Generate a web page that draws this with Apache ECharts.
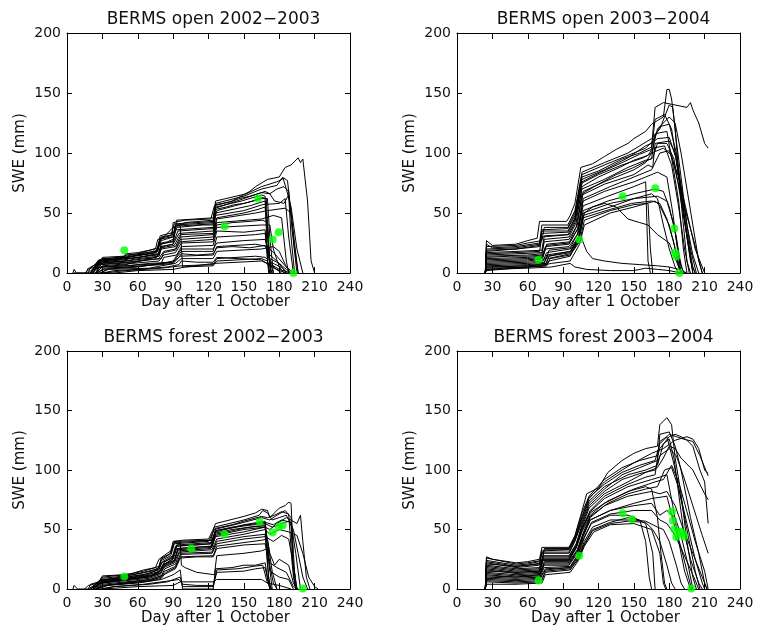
<!DOCTYPE html>
<html>
<head>
<meta charset="utf-8">
<script src="https://cdn.jsdelivr.net/npm/echarts@6/dist/echarts.min.js"></script>
<style>
  html, body { margin: 0; padding: 0; background: #fff; }
  #chart { width: 759px; height: 627px; }
</style>
</head>
<body>
<div id="chart"></div>
<script>
// Panel titles
const panelTitles = [
  'BERMS open 2002\u22122003',
  'BERMS open 2003\u22122004',
  'BERMS forest 2002\u22122003',
  'BERMS forest 2003\u22122004'
];

// Axis ticks
const dayTicks = [0, 30, 60, 90, 120, 150, 180, 210, 240];
const sweTicks = [0, 50, 100, 150, 200];

// Ensemble SWE runs (mm); each run is a flat list: day, swe, day, swe, ...
const open0203Runs = [
  [5,0, 18,0, 20,5, 27,8, 30,13, 48,14, 50,16, 60,17, 75,20, 77,28, 89,30, 90,42, 100,44, 122,45, 125,56, 140,60, 155,68, 160,72, 170,78, 180,80, 185,88, 190,90, 196,96, 198,92, 200,95, 204,60, 207,10, 210,0],
  [15,0, 20,4, 27,10, 47,12, 50,15, 60,16, 76,18, 78,26, 90,38, 100,42, 124,44, 126,58, 150,64, 165,70, 178,73, 183,80, 186,70, 190,55, 195,20, 200,0],
  [20,0, 28,11, 48,12, 55,14, 77,19, 80,30, 90,32, 92,40, 124,42, 126,55, 148,60, 165,65, 168,64, 170,10, 172,0],
  [22,0, 25,6, 30,12, 50,13, 60,15, 75,17, 78,24, 90,26, 92,36, 124,38, 127,52, 150,58, 165,62, 170,62, 172,30, 175,0],
  [20,0, 27,9, 48,11, 60,13, 78,16, 80,22, 90,24, 95,33, 124,35, 126,48, 150,52, 166,57, 180,58, 185,62, 188,30, 192,0],
  [25,0, 28,8, 50,10, 60,12, 78,14, 80,20, 92,22, 96,30, 124,32, 127,45, 160,50, 170,52, 185,54, 190,50, 196,0],
  [18,0, 26,7, 50,9, 78,12, 82,18, 92,20, 96,28, 124,30, 127,42, 165,45, 175,48, 182,46, 186,10, 188,0],
  [25,0, 30,6, 55,8, 78,10, 82,15, 92,17, 97,25, 124,26, 127,38, 165,40, 172,40, 175,20, 180,5, 184,0],
  [24,0, 30,5, 50,6, 80,8, 82,13, 93,15, 97,22, 124,23, 127,35, 150,34, 168,36, 171,0],
  [20,0, 28,5, 50,7, 78,14, 80,22, 90,24, 92,40, 96,40, 98,5, 124,6, 127,10, 165,12, 170,10, 172,0],
  [25,0, 30,3, 60,5, 80,8, 90,10, 97,20, 124,20, 127,25, 150,27, 168,28, 172,15, 178,10, 186,0],
  [28,0, 35,3, 70,4, 80,6, 92,8, 97,12, 124,12, 127,18, 165,20, 175,22, 180,18, 186,5, 190,0],
  [30,0, 50,2, 80,4, 97,6, 124,7, 127,12, 160,14, 168,13, 175,8, 183,4, 187,0],
  [5,0, 6,3, 8,0, 40,0, 60,2, 90,3, 100,5, 125,8, 165,10, 175,6, 180,3, 190,0],
  [20,0, 27,11, 50,14, 60,16, 77,21, 79,31, 91,34, 93,44, 124,46, 126,60, 152,66, 165,72, 178,76, 184,79, 187,77, 190,50, 193,20, 196,0],
  [20,0, 28,10, 49,13, 76,17, 80,27, 90,30, 92,39, 124,41, 126,54, 150,62, 168,68, 172,66, 176,60, 184,58, 188,65, 190,30, 193,0],
  [22,0, 28,9, 50,12, 77,15, 80,24, 91,27, 94,35, 124,37, 126,50, 155,56, 168,60, 170,40, 172,5, 174,0],
  [16,0, 18,4, 30,5, 50,6, 70,8, 90,9, 96,14, 124,15, 127,22, 160,24, 170,22, 178,14, 185,6, 192,0],
  [22,0, 27,8, 35,9, 48,10, 52,12, 62,13, 70,15, 78,16, 80,25, 85,26, 90,28, 93,38, 105,39, 115,40, 124,40, 126,53, 135,55, 142,57, 150,58, 158,60, 165,63, 169,62, 171,20, 173,0],
  [20,0, 26,10, 40,11, 50,13, 58,14, 70,16, 77,18, 79,29, 88,31, 91,41, 110,42, 124,43, 126,57, 138,59, 146,62, 155,64, 165,67, 172,66, 178,70, 184,72, 188,68, 191,35, 195,0],
  [24,0, 29,7, 45,8, 55,9, 70,11, 80,12, 82,17, 92,19, 96,26, 110,27, 124,28, 127,40, 140,42, 155,43, 166,44, 170,42, 172,10, 175,0],
  [26,0, 32,4, 50,5, 80,7, 90,8, 94,12, 97,16, 110,15, 124,16, 127,21, 140,22, 155,21, 168,23, 172,12, 180,8, 186,3, 190,0],
  [30,0, 40,2, 60,3, 85,5, 95,7, 97,10, 110,9, 124,9, 127,13, 145,12, 165,11, 172,6, 180,2, 186,0],
  [28,0, 36,4, 55,5, 75,7, 90,9, 97,18, 115,18, 124,18, 127,30, 145,31, 160,32, 168,33, 171,12, 176,4, 182,0],
  [22,0, 28,8, 50,10, 76,13, 80,21, 91,23, 96,32, 124,33, 127,46, 150,50, 162,53, 168,55, 171,20, 173,0]
];

const open0304Runs = [
  [24,0, 25,27, 30,23, 50,24, 60,27, 68,29, 70,43, 93,43, 96,48, 100,58, 105,88, 115,91, 125,97, 135,103, 145,108, 150,112, 160,118, 165,124, 170,127, 175,130, 178,153, 180,153, 182,145, 185,120, 190,60, 195,10, 198,0],
  [24,0, 25,22, 50,23, 60,25, 72,27, 74,38, 94,38, 100,50, 106,80, 120,85, 140,95, 155,100, 165,105, 168,138, 175,142, 185,140, 195,138, 198,142, 200,136, 205,125, 210,108, 213,104],
  [24,0, 25,18, 50,20, 70,22, 72,35, 94,35, 100,45, 106,75, 120,82, 140,90, 158,96, 165,100, 170,120, 180,130, 185,125, 190,100, 195,70, 200,40, 205,10, 208,0],
  [24,0, 25,16, 50,17, 70,18, 72,30, 95,32, 100,42, 106,70, 125,78, 145,88, 160,94, 165,95, 168,116, 178,118, 183,90, 188,60, 192,20, 195,0],
  [24,0, 25,14, 60,15, 72,16, 74,26, 95,28, 102,40, 106,65, 125,74, 150,82, 162,90, 166,88, 168,108, 180,110, 185,100, 190,70, 195,30, 200,0],
  [24,0, 25,12, 60,13, 72,14, 75,22, 95,24, 102,36, 107,60, 125,68, 150,76, 160,80, 165,82, 170,84, 178,80, 183,50, 187,20, 190,0],
  [24,0, 25,10, 60,11, 72,12, 75,20, 95,22, 102,32, 107,56, 128,64, 150,72, 160,76, 162,10, 164,0],
  [24,0, 25,8, 60,9, 73,10, 76,17, 96,20, 103,30, 107,52, 128,60, 150,66, 168,70, 175,68, 180,55, 186,30, 190,5, 193,0],
  [24,0, 25,6, 60,7, 74,8, 76,15, 96,18, 103,28, 107,48, 130,55, 150,62, 170,64, 178,60, 184,40, 188,15, 192,0],
  [24,0, 25,5, 60,6, 75,7, 77,12, 96,16, 103,26, 106,28, 110,18, 115,12, 125,10, 140,8, 155,7, 170,6, 180,5, 188,3, 195,0],
  [24,0, 25,4, 60,5, 75,6, 78,10, 96,14, 104,30, 108,50, 115,55, 125,58, 135,55, 145,45, 155,42, 162,40, 170,32, 180,25, 186,10, 190,0],
  [24,0, 25,3, 60,4, 80,5, 96,8, 100,5, 110,3, 130,2, 150,2, 160,4, 170,3, 180,2, 190,0],
  [24,0, 25,2, 50,4, 70,6, 80,8, 96,10, 104,24, 108,40, 130,50, 150,55, 168,60, 172,56, 180,40, 185,20, 190,0],
  [24,0, 25,20, 50,21, 70,24, 72,33, 94,34, 100,46, 106,78, 125,86, 145,96, 160,106, 165,108, 170,112, 180,113, 186,95, 192,50, 198,10, 202,0],
  [24,0, 25,24, 30,21, 50,22, 70,25, 72,40, 94,40, 100,52, 106,84, 125,92, 145,100, 165,112, 172,120, 180,140, 183,138, 186,110, 190,80, 195,40, 200,15, 205,0],
  [24,0, 25,9, 60,10, 76,12, 78,19, 96,21, 103,34, 107,62, 130,72, 150,80, 165,86, 172,100, 180,102, 188,80, 195,50, 202,20, 210,0],
  [24,0, 25,11, 60,12, 73,13, 76,24, 96,26, 103,38, 107,68, 125,76, 150,86, 160,92, 165,100, 175,104, 182,98, 190,65, 200,30, 208,0],
  [24,0, 25,7, 60,8, 74,9, 77,14, 96,18, 103,30, 107,50, 130,58, 150,62, 165,66, 170,62, 175,40, 180,20, 185,5, 188,0],
  [24,0, 25,13, 45,14, 60,14, 73,15, 76,23, 95,25, 101,38, 106,66, 120,74, 135,82, 150,88, 160,93, 166,96, 170,108, 178,108, 184,95, 190,60, 196,25, 200,0],
  [24,0, 25,15, 50,16, 72,17, 74,28, 95,30, 101,42, 106,72, 120,80, 138,88, 150,94, 162,98, 166,104, 176,106, 182,90, 188,55, 193,20, 197,0],
  [24,0, 25,17, 50,18, 72,19, 74,31, 94,32, 100,44, 106,76, 122,84, 140,92, 155,99, 165,103, 168,128, 176,132, 182,120, 188,80, 194,40, 200,5, 202,0],
  [24,0, 25,5, 60,6, 76,8, 78,14, 96,17, 103,28, 107,46, 130,53, 148,58, 165,60, 172,58, 178,45, 184,25, 188,5, 191,0],
  [24,0, 25,3, 40,4, 60,5, 76,6, 79,12, 96,15, 104,26, 108,44, 130,52, 150,57, 162,58, 164,20, 166,0],
  [24,0, 25,19, 50,20, 70,23, 72,36, 94,37, 100,48, 106,82, 125,90, 145,98, 160,104, 166,110, 172,122, 180,124, 186,100, 192,60, 198,20, 203,0]
];

const forest0203Runs = [
  [5,0, 6,3, 9,0, 18,0, 20,4, 27,6, 30,11, 48,12, 55,13, 65,16, 75,18, 78,25, 85,30, 88,32, 90,40, 98,41, 120,42, 124,50, 126,55, 150,61, 160,64, 165,67, 170,66, 172,60, 176,64, 180,68, 185,70, 188,73, 190,72, 192,30, 194,0],
  [15,0, 18,3, 27,5, 30,9, 50,11, 65,14, 77,17, 80,24, 88,28, 91,38, 120,40, 125,50, 150,56, 165,60, 172,58, 178,62, 185,66, 190,60, 192,20, 195,0],
  [20,0, 27,6, 30,8, 50,10, 65,12, 78,16, 80,22, 89,26, 92,36, 122,38, 126,48, 150,54, 168,57, 170,40, 172,20, 175,5, 178,0],
  [20,0, 27,4, 30,7, 50,9, 70,11, 78,14, 81,20, 90,25, 93,34, 122,36, 126,46, 150,51, 168,54, 171,10, 173,0],
  [22,0, 25,3, 30,6, 50,8, 70,10, 79,13, 82,19, 91,23, 94,32, 122,34, 126,44, 150,48, 168,52, 172,50, 178,55, 186,60, 190,58, 195,55, 198,62, 200,40, 203,10, 206,0],
  [22,0, 30,5, 50,7, 70,9, 79,12, 82,18, 91,22, 95,31, 123,33, 127,42, 150,46, 168,50, 172,46, 180,50, 188,48, 195,45, 200,30, 205,10, 210,2, 213,0],
  [24,0, 30,4, 50,6, 70,8, 80,11, 83,17, 92,21, 95,30, 123,31, 127,40, 150,44, 168,46, 170,20, 172,0],
  [24,0, 30,3, 50,5, 70,7, 80,10, 83,15, 92,19, 96,29, 123,30, 127,38, 150,42, 168,44, 175,40, 182,45, 188,42, 192,20, 195,0],
  [25,0, 32,3, 55,5, 72,7, 80,9, 84,14, 92,18, 96,27, 124,28, 127,36, 150,39, 165,41, 170,42, 172,30, 176,20, 180,25, 188,20, 192,5, 195,0],
  [20,0, 28,5, 50,8, 70,10, 78,14, 82,20, 90,26, 93,36, 96,40, 97,20, 100,18, 110,14, 125,12, 127,28, 150,30, 165,32, 170,34, 172,15, 180,10, 188,8, 192,0],
  [25,0, 35,3, 60,5, 80,8, 90,12, 96,16, 98,0, 124,0, 126,17, 140,18, 150,20, 160,20, 168,22, 170,10, 172,0],
  [28,0, 40,2, 70,4, 85,6, 96,10, 98,2, 124,2, 127,14, 150,15, 160,17, 168,18, 172,0],
  [30,0, 60,2, 90,3, 96,6, 124,6, 127,8, 165,8, 170,5, 180,3, 190,0],
  [18,0, 26,5, 30,10, 50,12, 65,15, 78,19, 80,26, 88,30, 91,40, 122,41, 125,52, 150,58, 163,62, 166,66, 170,64, 174,58, 180,60, 186,62, 190,55, 192,10, 194,0],
  [20,0, 28,7, 50,10, 70,13, 78,17, 81,23, 90,28, 93,37, 122,39, 126,49, 150,53, 168,55, 174,52, 180,54, 188,57, 192,50, 196,30, 200,10, 204,0],
  [22,0, 30,6, 50,9, 68,12, 79,15, 82,21, 91,24, 94,33, 123,35, 126,45, 150,50, 168,52, 171,35, 174,15, 178,0],
  [20,0, 27,7, 40,9, 50,11, 62,13, 72,15, 78,18, 80,25, 87,29, 91,39, 110,40, 124,41, 126,51, 140,54, 150,57, 165,61, 170,60, 176,62, 182,65, 188,63, 191,20, 194,0],
  [23,0, 29,5, 45,7, 60,9, 75,12, 80,14, 83,20, 91,24, 94,34, 110,35, 123,36, 126,47, 140,50, 155,52, 168,53, 171,25, 174,0],
  [22,0, 28,6, 45,8, 60,10, 72,12, 79,15, 82,22, 90,27, 93,36, 110,37, 122,38, 126,49, 140,52, 160,55, 168,56, 175,54, 182,58, 190,56, 194,30, 198,0],
  [26,0, 32,3, 55,6, 72,8, 82,12, 92,17, 96,26, 110,27, 124,27, 127,34, 150,37, 168,38, 172,22, 178,18, 186,14, 192,2, 196,0],
  [30,0, 40,2, 65,4, 88,7, 95,8, 98,4, 110,3, 124,3, 127,16, 145,17, 158,19, 166,20, 170,5, 174,0]
];

const forest0304Runs = [
  [24,0, 25,27, 30,25, 50,22, 60,23, 70,25, 72,35, 95,35, 100,45, 105,62, 110,80, 120,85, 128,98, 140,108, 150,114, 160,118, 170,120, 172,138, 178,144, 182,138, 185,110, 190,80, 195,40, 200,10, 203,0],
  [24,0, 25,24, 50,20, 60,21, 70,23, 72,32, 95,33, 100,42, 106,60, 112,76, 125,90, 140,100, 150,106, 165,114, 175,118, 185,125, 195,128, 200,126, 205,118, 210,100, 213,97],
  [24,0, 25,22, 50,18, 70,20, 72,30, 95,30, 100,40, 106,56, 112,72, 125,84, 140,96, 155,102, 170,108, 172,130, 180,132, 185,120, 190,100, 198,60, 205,30, 210,5, 212,0],
  [24,0, 25,20, 50,17, 70,18, 73,28, 95,28, 101,38, 106,52, 112,68, 125,80, 145,90, 160,98, 170,102, 175,110, 180,120, 185,118, 190,110, 200,100, 210,80, 213,75],
  [24,0, 25,18, 50,15, 70,16, 73,26, 95,26, 101,36, 106,50, 113,65, 125,76, 145,86, 165,92, 172,94, 178,96, 183,70, 188,40, 193,15, 198,0],
  [24,0, 25,16, 50,13, 70,14, 73,24, 95,24, 101,34, 106,48, 113,62, 125,72, 145,82, 160,86, 165,84, 170,60, 173,30, 176,5, 178,0],
  [24,0, 25,14, 50,12, 70,13, 74,22, 95,22, 102,32, 107,46, 113,60, 125,70, 145,78, 165,82, 172,80, 178,82, 185,70, 192,50, 200,30, 208,10, 212,0],
  [24,0, 25,12, 50,10, 70,11, 74,20, 95,20, 102,30, 107,44, 113,58, 130,66, 150,72, 165,76, 178,78, 184,55, 190,35, 195,15, 199,0],
  [24,0, 25,10, 50,9, 70,10, 74,18, 96,19, 102,28, 107,42, 114,55, 130,62, 145,62, 150,60, 160,55, 166,30, 168,0],
  [24,0, 25,8, 50,7, 70,8, 75,16, 96,18, 103,27, 108,40, 115,52, 130,58, 150,58, 160,57, 170,52, 175,50, 180,40, 186,20, 190,5, 193,0],
  [24,0, 25,6, 50,5, 70,6, 75,14, 96,16, 103,26, 108,38, 115,50, 130,56, 145,60, 155,58, 160,40, 163,10, 165,0],
  [24,0, 25,4, 50,4, 72,5, 75,12, 96,14, 103,24, 108,36, 116,48, 130,54, 150,55, 165,50, 172,30, 175,5, 177,0],
  [24,0, 25,26, 50,21, 60,22, 72,24, 74,34, 95,34, 100,44, 106,64, 112,78, 125,92, 140,102, 155,108, 170,112, 172,118, 180,128, 185,130, 190,128, 195,125, 200,120, 206,100, 210,90, 213,55],
  [24,0, 25,21, 50,19, 70,21, 72,31, 95,31, 100,41, 106,58, 112,74, 125,86, 145,96, 160,100, 170,104, 175,122, 180,126, 184,110, 188,80, 192,50, 198,25, 205,5, 208,0],
  [24,0, 25,15, 50,14, 70,15, 73,25, 95,25, 101,35, 106,50, 113,64, 128,74, 150,84, 168,90, 175,92, 182,104, 188,90, 195,65, 202,40, 210,15, 213,0],
  [24,0, 25,11, 50,10, 70,12, 74,21, 95,21, 102,31, 107,45, 113,58, 130,66, 150,70, 165,72, 172,62, 178,66, 185,60, 190,45, 196,20, 200,0],
  [24,0, 25,19, 50,16, 70,17, 73,27, 95,27, 101,37, 106,54, 112,70, 125,82, 140,92, 155,97, 168,100, 172,112, 180,118, 186,112, 192,95, 200,70, 208,45, 213,30],
  [24,0, 25,13, 50,11, 70,12, 74,23, 95,23, 102,33, 107,47, 113,61, 128,72, 145,80, 160,84, 170,86, 176,100, 182,102, 188,85, 195,55, 202,25, 208,5, 210,0],
  [24,0, 25,17, 50,14, 70,15, 73,25, 95,25, 101,35, 106,51, 113,66, 125,78, 145,88, 160,94, 168,96, 172,124, 178,128, 184,105, 190,75, 196,45, 202,15, 206,0],
  [24,0, 25,9, 50,8, 70,9, 75,17, 96,18, 103,29, 108,43, 114,56, 130,63, 150,66, 165,66, 172,58, 178,55, 185,45, 192,30, 200,12, 205,0],
  [24,0, 25,23, 50,19, 60,20, 72,22, 74,33, 95,33, 100,43, 106,61, 112,77, 125,88, 140,98, 155,104, 168,108, 172,122, 180,130, 186,128, 192,126, 200,124, 206,112, 213,95],
  [24,0, 25,7, 50,6, 72,7, 75,15, 96,17, 103,25, 108,37, 115,49, 130,55, 145,57, 160,56, 166,50, 172,40, 178,20, 182,5, 185,0]
];

// Snow survey observations: [day, swe]
const open0203Obs = [[48.6,19],[133.7,39],[162,62],[174.4,28],[179.5,34],[192,0]];
const open0304Obs = [[69.2,11],[103.7,28],[140.5,64],[168.2,70.6],[184.3,37],[185,17],[186,14],[188.6,0]];
const forest0203Obs = [[48.6,10.5],[105.4,34],[133.7,46],[163.3,56.4],[174.4,47.5],[179.5,52],[182.9,53.6],[199.9,0.5]];
const forest0304Obs = [[69.2,7.2],[103.7,27.9],[140.5,63.7],[148.4,58.7],[182.3,65],[183.2,57.5],[184.3,50.3],[186,43.6],[188.6,48.3],[190.8,47.5],[192.8,44.1],[198.7,0.5]];

const panelRuns = [open0203Runs, open0304Runs, forest0203Runs, forest0304Runs];
const panelObs = [open0203Obs, open0304Obs, forest0203Obs, forest0304Obs];

// Layout of the 2x2 panel grid
const panelBoxes = [
  { left: 67,  top: 33,  width: 283, height: 240 },
  { left: 457, top: 33,  width: 283, height: 240 },
  { left: 67,  top: 351, width: 283, height: 238 },
  { left: 457, top: 351, width: 283, height: 238 }
];

const FONT = 'DejaVu Sans';
const INK = '#000';
const TEXT = '#111';

function toPairs(flat) {
  const out = [];
  for (let i = 0; i < flat.length; i += 2) out.push([flat[i], flat[i + 1]]);
  return out;
}

const option = {
  backgroundColor: '#fff',
  animation: false,
  title: [],
  grid: [],
  xAxis: [],
  yAxis: [],
  series: []
};

panelBoxes.forEach(function (box, p) {
  option.grid.push(Object.assign({ containLabel: false }, box));
  option.title.push({
    text: panelTitles[p],
    left: box.left + box.width / 2,
    top: box.top - 27,
    textAlign: 'center',
    textStyle: { fontFamily: FONT, fontSize: 17, fontWeight: 'normal', color: TEXT }
  });

  const tickStyle = { show: true, inside: true, length: 6, lineStyle: { color: INK, width: 1 } };
  const lineStyle = { show: true, onZero: false, lineStyle: { color: INK, width: 1 } };

  // bottom axis with labels
  option.xAxis.push({
    gridIndex: p, type: 'value', position: 'bottom',
    min: dayTicks[0], max: dayTicks[dayTicks.length - 1], interval: 30,
    axisLine: lineStyle, axisTick: tickStyle, splitLine: { show: false },
    axisLabel: { margin: 7, fontFamily: FONT, fontSize: 14, color: TEXT, showMinLabel: true, showMaxLabel: true },
    name: 'Day after 1 October', nameLocation: 'middle', nameGap: p < 2 ? 21 : 22,
    nameTextStyle: { fontFamily: FONT, fontSize: 15, color: TEXT, padding: [0, 0, 0, 14] }
  });
  // top axis: frame + inward ticks
  option.xAxis.push({
    gridIndex: p, type: 'value', position: 'top',
    min: dayTicks[0], max: dayTicks[dayTicks.length - 1], interval: 30,
    axisLine: lineStyle, axisTick: tickStyle, splitLine: { show: false },
    axisLabel: { show: false }
  });
  // left axis with labels
  option.yAxis.push({
    gridIndex: p, type: 'value', position: 'left',
    min: sweTicks[0], max: sweTicks[sweTicks.length - 1], interval: 50,
    axisLine: lineStyle, axisTick: Object.assign({}, tickStyle, { length: 5 }), splitLine: { show: false },
    axisLabel: { margin: 6, fontFamily: FONT, fontSize: 14, color: TEXT },
    name: 'SWE (mm)', nameLocation: 'middle', nameGap: 39,
    nameTextStyle: { fontFamily: FONT, fontSize: 15, color: TEXT }
  });
  // right axis: frame + inward ticks
  option.yAxis.push({
    gridIndex: p, type: 'value', position: 'right',
    min: sweTicks[0], max: sweTicks[sweTicks.length - 1], interval: 50,
    axisLine: lineStyle, axisTick: Object.assign({}, tickStyle, { length: 5 }), splitLine: { show: false },
    axisLabel: { show: false }
  });

  panelRuns[p].forEach(function (run) {
    option.series.push({
      type: 'line',
      xAxisIndex: p * 2, yAxisIndex: p * 2,
      data: toPairs(run),
      showSymbol: false, symbol: 'none',
      lineStyle: { color: INK, width: 1 },
      silent: true, clip: true, z: 2
    });
  });

  option.series.push({
    type: 'scatter',
    xAxisIndex: p * 2, yAxisIndex: p * 2,
    data: panelObs[p],
    symbol: 'circle', symbolSize: 8,
    itemStyle: { color: '#00ff00' },
    clip: false, z: 5
  });
});

const chart = echarts.init(document.getElementById('chart'), null, { renderer: 'canvas' });
chart.setOption(option);
</script>
</body>
</html>
